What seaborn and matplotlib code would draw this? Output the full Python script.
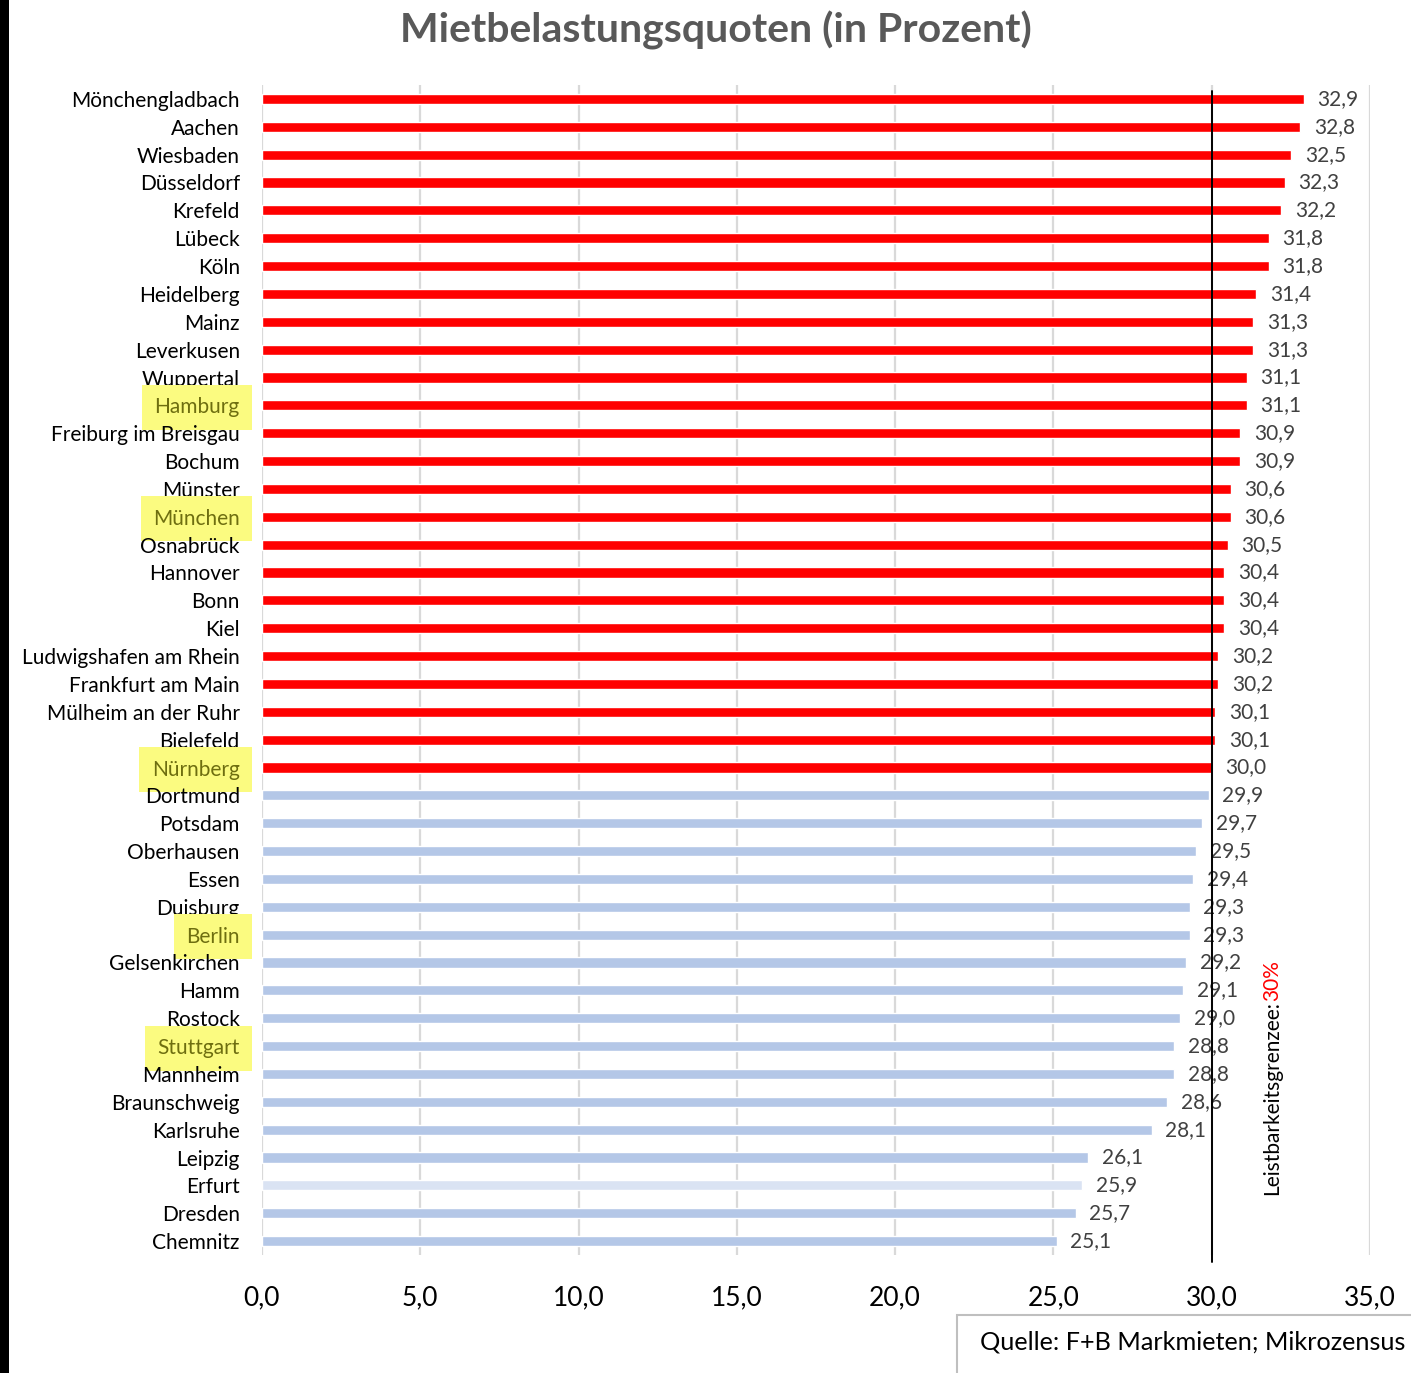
import matplotlib
matplotlib.use("Agg")
import matplotlib.pyplot as plt
from matplotlib.patches import Rectangle
import seaborn as sns
import pandas as pd

cities = [
    "Mönchengladbach", "Aachen", "Wiesbaden", "Düsseldorf", "Krefeld", "Lübeck",
    "Köln", "Heidelberg", "Mainz", "Leverkusen", "Wuppertal", "Hamburg",
    "Freiburg im Breisgau", "Bochum", "Münster", "München", "Osnabrück",
    "Hannover", "Bonn", "Kiel", "Ludwigshafen am Rhein", "Frankfurt am Main",
    "Mülheim an der Ruhr", "Bielefeld", "Nürnberg", "Dortmund", "Potsdam",
    "Oberhausen", "Essen", "Duisburg", "Berlin", "Gelsenkirchen", "Hamm",
    "Rostock", "Stuttgart", "Mannheim", "Braunschweig", "Karlsruhe", "Leipzig",
    "Erfurt", "Dresden", "Chemnitz",
]
quoten = [
    32.9, 32.8, 32.5, 32.3, 32.2, 31.8, 31.8, 31.4, 31.3, 31.3, 31.1, 31.1,
    30.9, 30.9, 30.6, 30.6, 30.5, 30.4, 30.4, 30.4, 30.2, 30.2, 30.1, 30.1,
    30.0, 29.9, 29.7, 29.5, 29.4, 29.3, 29.3, 29.2, 29.1, 29.0, 28.8, 28.8,
    28.6, 28.1, 26.1, 25.9, 25.7, 25.1,
]
highlighted = ["Hamburg", "München", "Nürnberg", "Berlin", "Stuttgart"]
x_ticks = [0, 5, 10, 15, 20, 25, 30, 35]
grenze = 30.0

RED = "#ff0000"
BLUE = "#b4c7e7"
PALE = "#dae3f3"
colors = [RED if v >= grenze else BLUE for v in quoten]
colors[cities.index("Erfurt")] = PALE

df = pd.DataFrame({"Stadt": cities, "Quote": quoten})

sns.set_theme(style="white")
plt.rcParams["font.family"] = ["Lato", "DejaVu Sans"]

W, H = 1411, 1373
fig = plt.figure(figsize=(W / 100, H / 100), dpi=100)
ax = fig.add_axes([262 / W, 1 - 1255 / H, (1370 - 262) / W, (1255 - 85) / H])

sns.barplot(data=df, x="Quote", y="Stadt", hue="Stadt", palette=colors,
            legend=False, width=0.36, saturation=1, ax=ax, orient="h")

ax.set_xlim(0, 35)
ax.set_ylim(len(cities) - 0.5, -0.5)
ax.set_xticks(x_ticks)
ax.set_xticklabels([f"{t:.1f}".replace(".", ",") for t in x_ticks], fontsize=19)
ax.tick_params(axis="x", length=0, pad=22, colors="#000000")
ax.tick_params(axis="y", length=0, pad=16, labelsize=15, colors="#000000")
ax.set_xlabel("")
ax.set_ylabel("")
for s in ax.spines.values():
    s.set_visible(False)
ax.xaxis.grid(True, color="#d9d9d9", linewidth=1.6)
ax.set_axisbelow(True)

# value labels with decimal comma
for cont in ax.containers:
    ax.bar_label(cont, labels=[f"{b.get_width():.1f}".replace(".", ",") for b in cont],
                 padding=10, fontsize=15, color="#404040")

# highlighted city names
for lbl in ax.get_yticklabels():
    if lbl.get_text() in highlighted:
        lbl.set_color("#6e6e10")
        lbl.set_bbox(dict(facecolor="#fbfb80", edgecolor="none", pad=9))

# affordability limit line
ax.plot([grenze, grenze], [-0.3, len(cities) - 0.25], color="black", lw=1.4,
        clip_on=False, zorder=5)

# rotated limit annotation
fig.canvas.draw()
rend = fig.canvas.get_renderer()
t1 = fig.text(1272 / W, 1 - 1195 / H, "Leistbarkeitsgrenzee:", rotation=90,
              ha="center", va="bottom", fontsize=15, color="black")
bb = t1.get_window_extent(rend)
fig.text(1272 / W, bb.y1 / H, "30%", rotation=90, ha="center", va="bottom",
         fontsize=15, color=RED)

# title
fig.text(716 / W, 1 - 30 / H, "Mietbelastungsquoten (in Prozent)", ha="center",
         va="center", fontsize=29.5, fontweight="bold", color="#595959")

# left frame stripe
fig.patches.append(Rectangle((0, 0), 9 / W, 1, transform=fig.transFigure,
                             facecolor="black", edgecolor="none"))

# source box
fig.patches.append(Rectangle((957 / W, -0.01), (W - 957 + 10) / W, (1373 - 1315) / H + 0.01,
                             transform=fig.transFigure, facecolor="white",
                             edgecolor="#bfbfbf", lw=1.5))
fig.text(980 / W, 1 - 1342 / H, "Quelle: F+B Markmieten; Mikrozensus", ha="left",
         va="center", fontsize=18.2, color="#000000")

fig.savefig("out.png", dpi=100)
